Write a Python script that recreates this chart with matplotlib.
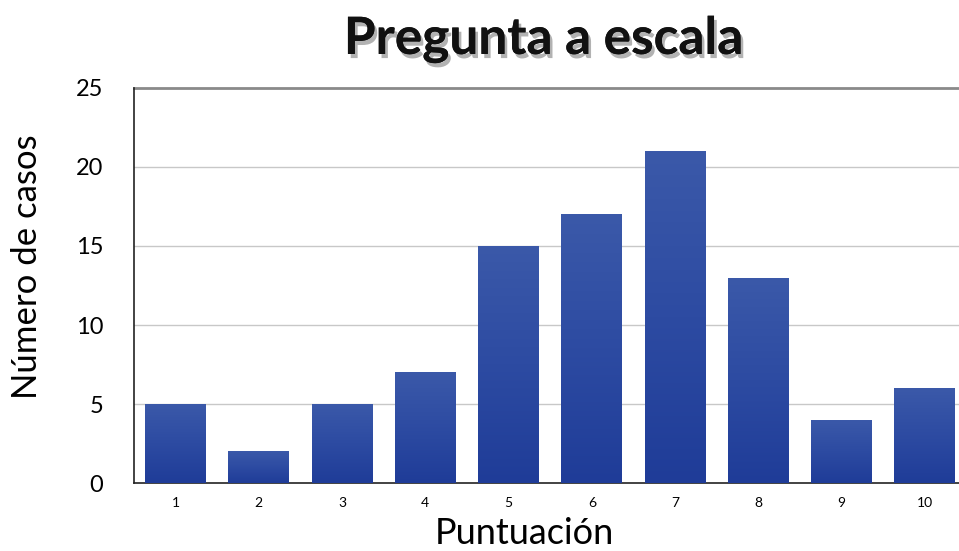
import numpy as np
import matplotlib
matplotlib.use("Agg")
import matplotlib.pyplot as plt
import matplotlib.patheffects as pe

plt.rcParams['font.family'] = ['Lato', 'DejaVu Sans']

puntuacion = [1, 2, 3, 4, 5, 6, 7, 8, 9, 10]
casos = [5, 2, 5, 7, 15, 17, 21, 13, 4, 6]
y_ticks = [0, 5, 10, 15, 20, 25]

fig = plt.figure(figsize=(9.59, 5.51), dpi=100)
ax = fig.add_axes([0.1397, 0.1234, 0.8603, 0.7169])

bars = ax.bar(puntuacion, casos, width=0.73, color='#2c4aa0', zorder=3)

# vertical gradient inside each bar
grad = np.linspace(0, 1, 256).reshape(-1, 1)
cmap = matplotlib.colors.LinearSegmentedColormap.from_list(
    'barras', ['#1f3c98', '#2d4ba2', '#3b59a9'])
for b in bars:
    x0, y0 = b.get_x(), b.get_y()
    w, h = b.get_width(), b.get_height()
    im = ax.imshow(grad, cmap=cmap, aspect='auto', origin='lower',
                   extent=[x0, x0 + w, y0, y0 + h], zorder=4)
    im.set_clip_path(b)

ax.set_xlim(0.5, 10.41)
ax.set_ylim(0, 25)
ax.set_xticks(puntuacion)
ax.set_xticklabels([str(p) for p in puntuacion], fontsize=10)
ax.set_yticks(y_ticks)
ax.set_yticklabels([str(t) for t in y_ticks], fontsize=17)
ax.tick_params(axis='both', length=0)
ax.tick_params(axis='y', pad=22)
ax.tick_params(axis='x', pad=10)

for t in y_ticks[1:-1]:
    ax.axhline(t, color='#c8c8c8', linewidth=1, zorder=1)
ax.axhline(25, color='#8a8a8a', linewidth=2, zorder=1, clip_on=False)

for s in ['top', 'right']:
    ax.spines[s].set_visible(False)
ax.spines['left'].set_color('#222222')
ax.spines['bottom'].set_color('#222222')
ax.spines['left'].set_linewidth(1.2)
ax.spines['bottom'].set_linewidth(1.2)

ax.set_xlabel('Puntuación', fontsize=26)
ax.xaxis.set_label_coords(0.473, -0.086)
ax.set_ylabel('Número de casos', fontsize=25)
ax.yaxis.set_label_coords(-0.11, 0.547)

fig.text(0.567, 0.928, 'Pregunta a escala', ha='center', va='center',
         fontsize=37, fontweight='bold', color='#111111',
         path_effects=[pe.withSimplePatchShadow(offset=(2, -3),
                                                shadow_rgbFace='#555555',
                                                alpha=0.45),
                       pe.Normal()])

fig.savefig('out.png', dpi=100)
